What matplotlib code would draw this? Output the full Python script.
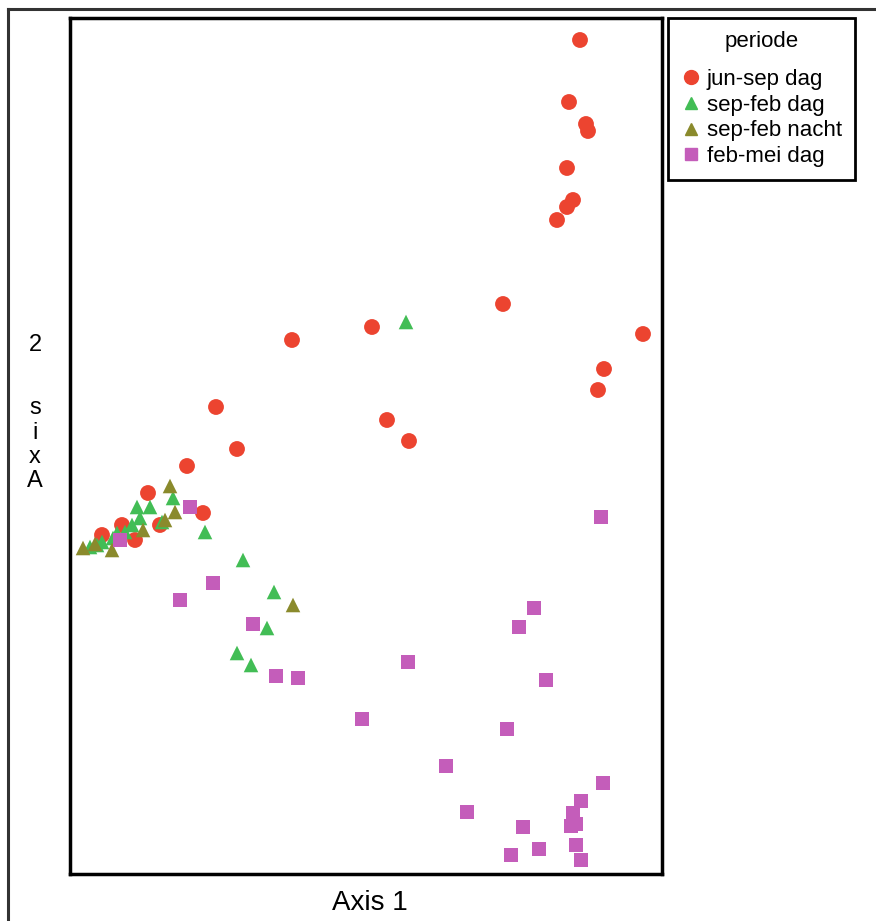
import matplotlib
matplotlib.use("Agg")
import matplotlib.pyplot as plt
from matplotlib.lines import Line2D

plt.rcParams['font.family'] = ['Liberation Sans', 'DejaVu Sans']

# --- data (ordination scores, arbitrary units) ---
groups = ["jun-sep dag", "sep-feb dag", "sep-feb nacht", "feb-mei dag"]

jun_sep_dag_x = [4.80, 4.69, 4.86, 4.88, 4.67, 4.73, 4.67, 4.57, 4.03, 5.43, 2.72, 1.92, 5.04,
                 4.98, 1.16, 2.87, 3.09, 1.37, 0.87, 0.48, 1.03, 0.60, 0.22, 0.02, 0.35]
jun_sep_dag_y = [5.00, 4.38, 4.16, 4.09, 3.72, 3.40, 3.33, 3.20, 2.36, 2.06, 2.13, 2.00, 1.71,
                 1.50, 1.33, 1.20, 0.99, 0.91, 0.74, 0.47, 0.27, 0.15, 0.15, 0.05, 0.00]

sep_feb_dag_x = [3.06, 1.43, 1.74, 1.67, 1.37, 1.51, 1.05, 0.73, 0.50, 0.37, 0.62, 0.40, 0.32,
                 0.17, 0.13, 0.02, -0.10, -0.03, 0.25]
sep_feb_dag_y = [2.18, -0.20, -0.52, -0.88, -1.13, -1.25, 0.08, 0.42, 0.33, 0.33, 0.18, 0.22, 0.15,
                 0.07, 0.02, -0.02, -0.07, -0.05, 0.08]

sep_feb_nacht_x = [1.93, 0.70, 0.75, 0.65, 0.43, 0.12, -0.17, -0.05]
sep_feb_nacht_y = [-0.65, 0.54, 0.28, 0.20, 0.10, -0.10, -0.08, -0.04]

feb_mei_dag_x = [0.90, 0.20, 1.13, 0.80, 1.53, 1.76, 1.98, 5.01, 4.34, 4.19, 3.08, 4.46, 2.62,
                 4.07, 3.46, 5.03, 3.67, 4.81, 4.73, 4.71, 4.76, 4.23, 4.76, 4.39, 4.11, 4.81]
feb_mei_dag_y = [0.33, 0.00, -0.43, -0.60, -0.84, -1.36, -1.38, 0.23, -0.68, -0.87, -1.22, -1.40, -1.79,
                 -1.89, -2.26, -2.43, -2.72, -2.61, -2.73, -2.86, -2.84, -2.87, -3.05, -3.09, -3.15, -3.20]

colors = ["#EC4430", "#42BD55", "#8A8A2C", "#C45DBA"]
markers = ["o", "^", "^", "s"]
sizes = [130, 110, 110, 105]

series = [(jun_sep_dag_x, jun_sep_dag_y), (sep_feb_dag_x, sep_feb_dag_y),
          (sep_feb_nacht_x, sep_feb_nacht_y), (feb_mei_dag_x, feb_mei_dag_y)]

W, H = 876, 921
fig = plt.figure(figsize=(W / 100, H / 100), dpi=100)
fig.patch.set_facecolor("white")

ax = fig.add_axes([70 / W, 1 - 874 / H, (662 - 70) / W, (874 - 18) / H])
for (xs, ys), c, m, s, lab in zip(series, colors, markers, sizes, groups):
    ax.scatter(xs, ys, c=c, marker=m, s=s, edgecolors="none", label=lab)

ax.set_xlim(-0.30, 5.62)
ax.set_ylim(-3.34, 5.22)
ax.set_xticks([])
ax.set_yticks([])
for sp in ax.spines.values():
    sp.set_linewidth(2.5)
    sp.set_color("black")

# axis labels
fig.text(370 / W, 1 - 903 / H, "Axis 1", ha="center", va="center", fontsize=20)
ychars = ["2", "s", "i", "x", "A"]
ypos = [345, 408, 433, 457, 481]
for ch, yp in zip(ychars, ypos):
    fig.text(35 / W, 1 - yp / H, ch, ha="center", va="center", fontsize=17)

# legend
handles = [Line2D([], [], linestyle="none", marker=m, color=c, markersize=ms)
           for c, m, ms in zip(colors, markers, [10, 9, 9, 8.5])]
leg = ax.legend(handles, groups, title="periode", loc="upper left",
                bbox_to_anchor=(668 / W, 1 - 18 / H), bbox_transform=fig.transFigure,
                borderaxespad=0, fontsize=16, title_fontsize=16, frameon=True,
                fancybox=False, framealpha=1, handletextpad=0.25, handlelength=0.9,
                borderpad=0.6, labelspacing=0.21)
leg.get_frame().set_edgecolor("black")
leg.get_frame().set_linewidth(2)
leg._legend_box.sep = 12

# outer frame lines (top and left)
fig.add_artist(Line2D([8 / W, 1], [1 - 9 / H, 1 - 9 / H], transform=fig.transFigure,
                      color="#333333", linewidth=2.2))
fig.add_artist(Line2D([8 / W, 8 / W], [1 - 9 / H, 0], transform=fig.transFigure,
                      color="#333333", linewidth=2.2))

fig.savefig("out.png", dpi=100)
